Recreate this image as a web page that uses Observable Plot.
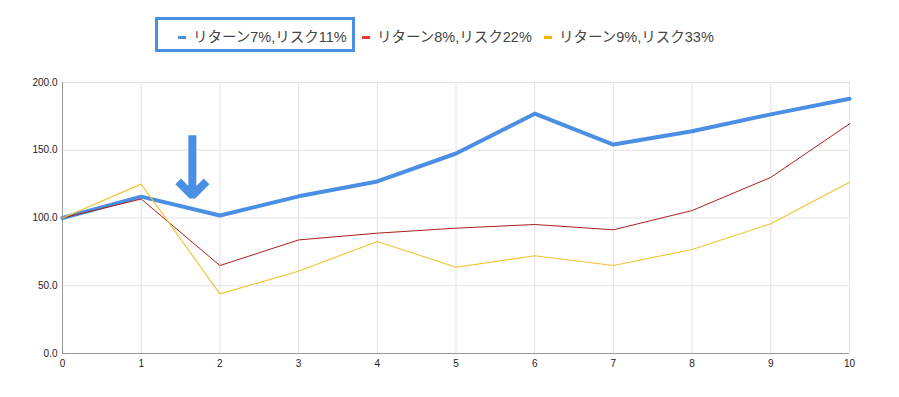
<!DOCTYPE html>
<html><head><meta charset="utf-8">
<script src="https://cdn.jsdelivr.net/npm/d3@7"></script>
<script src="https://cdn.jsdelivr.net/npm/@observablehq/plot@0.6"></script>
<style>
body{margin:0;background:#fff;width:899px;height:397px;overflow:hidden;font-family:"Liberation Sans",Arial,"Noto Sans CJK JP",sans-serif}
#legend{position:relative;height:70px}
.item{position:absolute;top:28px;font-size:14.5px;color:#444;white-space:nowrap;line-height:18px}
.sw{display:inline-block;width:8px;height:3px;vertical-align:middle;margin-right:7px;position:relative;top:-1px}
#box{position:absolute;left:155px;top:17px;width:194px;height:29px;border:3px solid #4a8fe3}
</style></head>
<body>
<div id="legend"></div>
<div id="chart"></div>
<script>
const years = [0,1,2,3,4,5,6,7,8,9,10];
const seriesNames = ["リターン7%,リスク11%","リターン8%,リスク22%","リターン9%,リスク33%"];
const lowRisk  = [100,115.8,101.8,116,127,147.6,177,154.2,164,176.5,188];
const midRisk  = [100,114,64.9,83.8,88.8,92.5,95.2,91.3,105.5,130,169.5];
const highRisk = [100,125,44,60.7,82.7,63.7,72.1,65,76.8,95.7,126.4];
const yTicks = [0,50,100,150,200];
const arrowX = [1.65], arrowFrom = [161], arrowTo = [116.5];

const colors = ["#4a8fe3","#a8201a","#f1c232"];
const swatchColors = ["#4a8fe3","#e53935","#f4b400"];
const legendLeft = [178,362,544];

const legend = document.getElementById("legend");
const box = document.createElement("div"); box.id="box"; legend.appendChild(box);
seriesNames.forEach((n,i)=>{
  const d=document.createElement("div"); d.className="item"; d.style.left=legendLeft[i]+"px";
  d.innerHTML=`<span class="sw" style="background:${swatchColors[i]}"></span>${n}`;
  legend.appendChild(d);
});

const mk = (vals,name) => years.map((x,i)=>({x, y: vals[i], s: name}));
const series = [mk(lowRisk,seriesNames[0]), mk(midRisk,seriesNames[1]), mk(highRisk,seriesNames[2])];
const arrows = arrowX.map((x,i)=>({x, y1: arrowFrom[i], y2: arrowTo[i]}));

const chart = Plot.plot({
  width: 899, height: 327,
  marginTop: 12, marginBottom: 44, marginLeft: 62, marginRight: 50,
  style: {fontFamily: "'Liberation Sans', Arial, sans-serif", fontSize: "10px", color: "#222", background: "#fff"},
  x: {domain: [0,10], ticks: years, tickSize: 0, tickPadding: 6, label: null},
  y: {domain: [0,200], ticks: yTicks, tickFormat: d3.format(".1f"), tickSize: 0, tickPadding: 5, label: null},
  marks: [
    Plot.gridX(years, {stroke: "#e3e3e3", strokeOpacity: 1}),
    Plot.gridY(yTicks, {stroke: "#e3e3e3", strokeOpacity: 1}),
    Plot.ruleX([0], {stroke: "#999"}),
    Plot.ruleY([0], {stroke: "#999"}),
    Plot.line(series[0], {x: "x", y: "y", stroke: colors[0], strokeWidth: 4}),
    Plot.line(series[1], {x: "x", y: "y", stroke: colors[1], strokeWidth: 1}),
    Plot.line(series[2], {x: "x", y: "y", stroke: colors[2], strokeWidth: 1.1}),
    Plot.arrow(arrows, {x1: "x", x2: "x", y1: "y1", y2: "y2", stroke: colors[0], strokeWidth: 8, headAngle: 90, headLength: 4, strokeLinecap: "butt", strokeLinejoin: "miter"}),
    Plot.axisX({ticks: years, tickSize: 0, tickPadding: 6}),
    Plot.axisY({ticks: yTicks, tickFormat: d3.format(".1f"), tickSize: 0, tickPadding: 5})
  ]
});
document.getElementById("chart").appendChild(chart);
</script>
</body></html>
